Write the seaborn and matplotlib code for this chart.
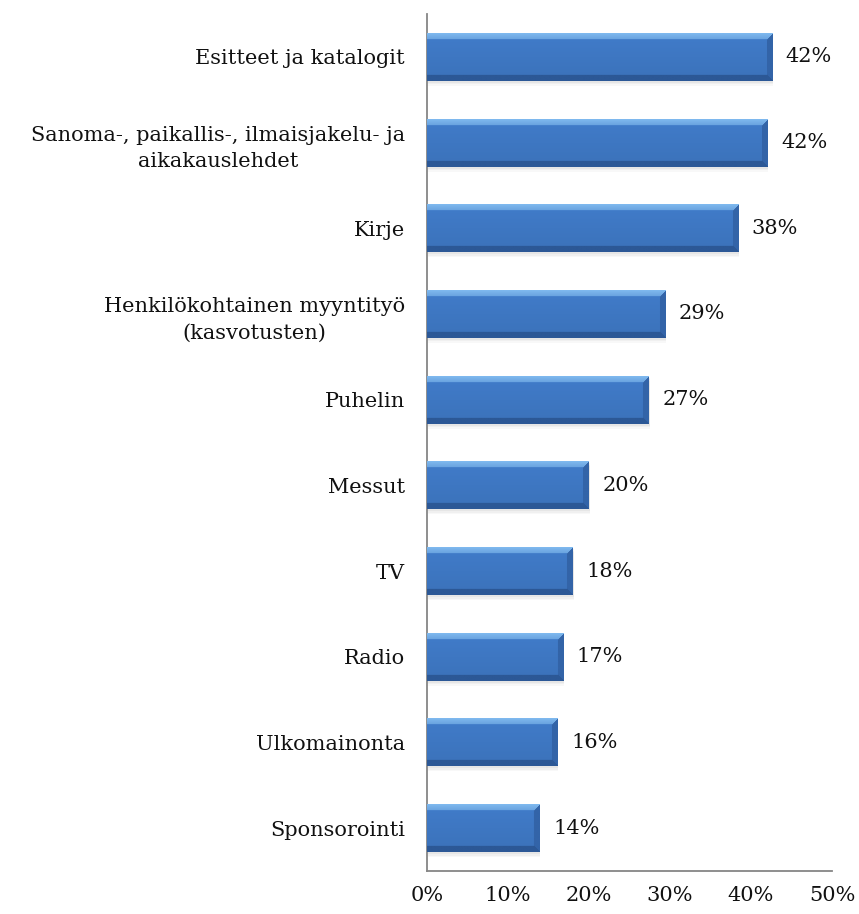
import matplotlib
matplotlib.use("Agg")
import matplotlib.pyplot as plt
import matplotlib.transforms as mtransforms
import seaborn as sns
import numpy as np
import pandas as pd

# data
categories = [
    "Esitteet ja katalogit",
    "Sanoma-, paikallis-, ilmaisjakelu- ja\naikakauslehdet",
    "Kirje",
    "Henkilökohtainen myyntityö\n(kasvotusten)",
    "Puhelin",
    "Messut",
    "TV",
    "Radio",
    "Ulkomainonta",
    "Sponsorointi",
]
values = [42.6, 42.0, 38.4, 29.4, 27.4, 20.0, 18.0, 16.8, 16.1, 13.9]
value_labels = ["42%", "42%", "38%", "29%", "27%", "20%", "18%", "17%", "16%", "14%"]
x_ticks = [0, 10, 20, 30, 40, 50]
x_ticklabels = ["0%", "10%", "20%", "30%", "40%", "50%"]

df = pd.DataFrame({"kanava": categories, "osuus": values})

sns.set_theme(style="white")
plt.rcParams["font.family"] = ["DejaVu Serif"]
FS = 15

fig = plt.figure(figsize=(8.59, 9.14), dpi=100)
ax = fig.add_axes([427 / 859, 43 / 914, 405 / 859, 857 / 914])

sns.barplot(data=df, x="osuus", y="kanava", orient="h", color="#3D75C0",
            width=0.56, ax=ax, saturation=1)

ax.set_xlim(0, 50)
ax.set_ylim(9.5, -0.5)
ax.set_xticks(x_ticks)
ax.set_xticklabels(x_ticklabels, fontsize=FS)
ax.tick_params(axis="y", labelsize=FS, pad=16, length=0)
ax.tick_params(axis="x", pad=11, length=0)
for lbl in ax.get_yticklabels():
    lbl.set_horizontalalignment("center")
    lbl.set_multialignment("center")
    lbl.set_linespacing(1.5)
    lbl.set_color("#111111")
for lbl in ax.get_xticklabels():
    lbl.set_color("#111111")
ax.set_xlabel("")
ax.set_ylabel("")

for side in ["top", "right"]:
    ax.spines[side].set_visible(False)
for side in ["left", "bottom"]:
    ax.spines[side].set_color("#868686")
    ax.spines[side].set_linewidth(1.3)

# keep each label block against the axis, lines centred inside the block
fig.canvas.draw()
renderer = fig.canvas.get_renderer()
widths = [t.get_window_extent(renderer).width for t in ax.get_yticklabels()]
for t, w in zip(ax.get_yticklabels(), widths):
    t.set_transform(t.get_transform() + mtransforms.ScaledTranslation(-(w / 2) / 100, 0, fig.dpi_scale_trans))


def bevel_image(h, w, b=6):
    yy, xx = np.mgrid[0:h, 0:w]
    dt = yy
    db = h - 1 - yy
    dr = w - 1 - xx
    img = np.zeros((h, w, 3))
    face = np.array([0x3E, 0x77, 0xC2]) / 255
    top = np.array([0x7E, 0xB8, 0xEE]) / 255
    bot = np.array([0x2C, 0x58, 0x96]) / 255
    right = np.array([0x33, 0x64, 0xA8]) / 255
    vert = (yy / max(h - 1, 1))[..., None]
    img[:] = face * (1.04 - 0.08 * vert)
    mins = np.minimum(np.minimum(dt, db), dr)
    edge = mins < b
    m_top = edge & (dt == mins)
    m_bot = edge & (db == mins) & ~m_top
    m_right = edge & (dr == mins) & ~m_top & ~m_bot
    tfade = (dt / b)[..., None]
    img[m_top] = (top * (1 - 0.35 * tfade) + face * 0.35 * tfade)[m_top]
    img[m_bot] = bot
    img[m_right] = right
    return np.clip(img, 0, 1)


px_per_unit = ax.transData.transform((0, 1))[1] - ax.transData.transform((0, 0))[1]
for patch in list(ax.patches):
    x0, y0 = patch.get_x(), patch.get_y()
    pw, ph = patch.get_width(), patch.get_height()
    p0 = ax.transData.transform((x0, y0))
    p1 = ax.transData.transform((x0 + pw, y0 + ph))
    wpx = int(abs(p1[0] - p0[0]))
    hpx = int(abs(p1[1] - p0[1]))
    # soft shadow below the bar
    for k, a in [(5, 0.05), (3.5, 0.07), (2, 0.09)]:
        dy = k / abs(px_per_unit)
        ax.add_patch(plt.Rectangle((x0 + 0.1, y0 + dy), pw, ph, color="#888888",
                                   alpha=a, lw=0, zorder=1))
    img = bevel_image(hpx, max(wpx, 2))
    ax.imshow(img, extent=(x0, x0 + pw, y0 + ph, y0), origin="upper",
              aspect="auto", zorder=3, interpolation="bilinear")
    patch.set_visible(False)

ax.set_xlim(0, 50)
ax.set_ylim(9.5, -0.5)

for i, (v, lab) in enumerate(zip(values, value_labels)):
    ax.text(v + 1.7, i, lab, va="center", ha="left", fontsize=FS, color="#111111")

fig.savefig("out.png", dpi=100)
